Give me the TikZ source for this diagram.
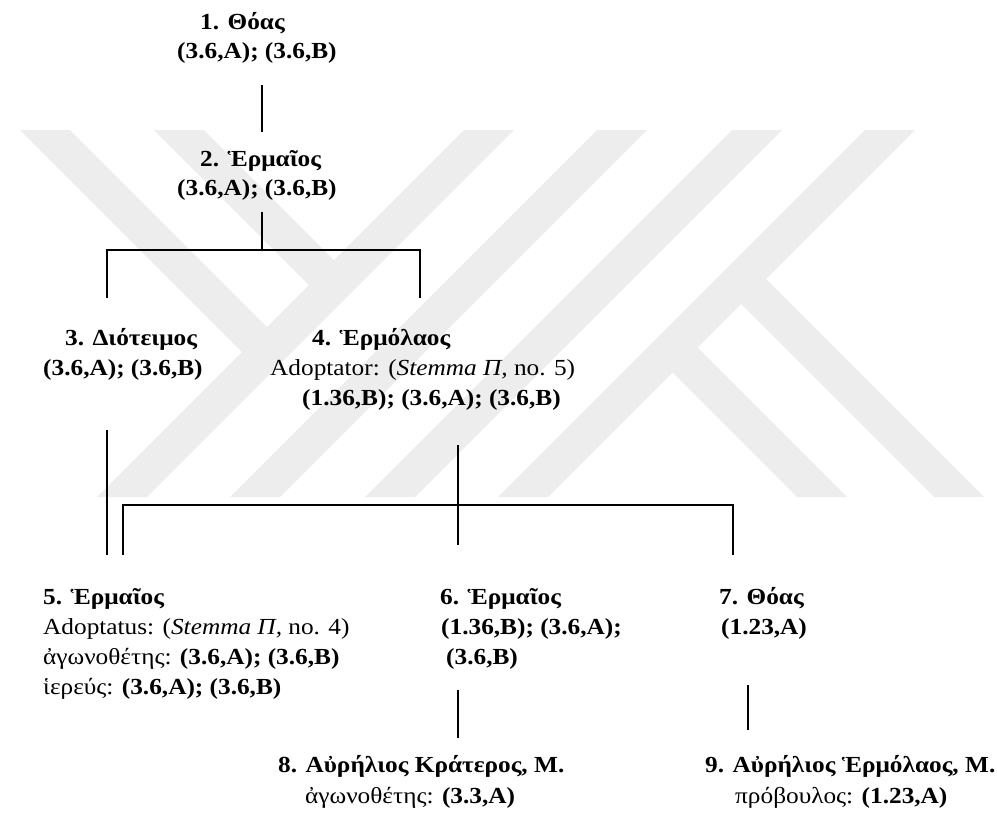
\documentclass[tikz,border=0pt]{standalone}
\usepackage{fontspec}
\setmainfont{Liberation Serif}[FakeStretch=1.1]
\definecolor{wmgray}{RGB}{237,237,237}
\begin{document}
\begin{tikzpicture}[x=1pt,y=-1pt,
  txt/.style={anchor=base west,inner sep=0pt,font=\fontsize{23}{29}\selectfont},
  conn/.style={line width=1.2pt,black},
  wm/.style={fill=wmgray,draw=none}]
\useasboundingbox (0,0) rectangle (997,814);
% watermark
\begin{scope}
\clip (0,130) rectangle (997,497);
\foreach \x in {97,230,365,498}{
  \path[wm] (\x,497) -- (\x+50,497) -- (\x+417,130) -- (\x+367,130) -- cycle;
}
\path[wm] (20,130) -- (70,130) -- (280,340) -- (255,365) -- cycle;
\path[wm] (154,130) -- (204,130) -- (347,273) -- (322,298) -- cycle;
\path[wm] (753.5,266.5) -- (984,497) -- (934,497) -- (728.5,291.5) -- cycle;
\path[wm] (685,335) -- (847,497) -- (797,497) -- (660,360) -- cycle;
\end{scope}
% texts
\node[txt] (n1a) at (200,29) {\textbf{1. Θόας}};
\node[txt] (n1b) at (177,58) {\textbf{(3.6,A); (3.6,B)}};
\node[txt] (n2a) at (200,166) {\textbf{2. Ἑρμαῖος}};
\node[txt] (n2b) at (177,195) {\textbf{(3.6,A); (3.6,B)}};
\node[txt] (n3a) at (65,345) {\textbf{3. Διότειμος}};
\node[txt] (n3b) at (43,375) {\textbf{(3.6,A); (3.6,B)}};
\node[txt] (n4a) at (312,345) {\textbf{4. Ἑρμόλαος}};
\node[txt] (n4b) at (270,375) {Adoptator: (\textit{Stemma Π,} no. 5)};
\node[txt] (n4c) at (302,405) {\textbf{(1.36,B); (3.6,A); (3.6,B)}};
\node[txt] (n5a) at (43,604) {\textbf{5. Ἑρμαῖος}};
\node[txt] (n5b) at (43,634) {Adoptatus: (\textit{Stemma Π,} no. 4)};
\node[txt] (n5c) at (43,664) {ἀγωνοθέτης: \textbf{(3.6,A); (3.6,B)}};
\node[txt] (n5d) at (43,694) {ἱερεύς: \textbf{(3.6,A); (3.6,B)}};
\node[txt] (n6a) at (440,604) {\textbf{6. Ἑρμαῖος}};
\node[txt] (n6b) at (441,634) {\textbf{(1.36,B); (3.6,A);}};
\node[txt] (n6c) at (446,664) {\textbf{(3.6,B)}};
\node[txt] (n7a) at (719,604) {\textbf{7. Θόας}};
\node[txt] (n7b) at (721,634) {\textbf{(1.23,A)}};
\node[txt] (n8a) at (278,772) {\textbf{8. Αὐρήλιος Κράτερος, Μ.}};
\node[txt] (n8b) at (305,803) {ἀγωνοθέτης: \textbf{(3.3,A)}};
\node[txt] (n9a) at (705,772) {\textbf{9. Αὐρήλιος Ἑρμόλαος, Μ.}};
\node[txt] (n9b) at (735,803) {πρόβουλος: \textbf{(1.23,A)}};
% connector coordinates
\coordinate (c1t) at (262,85);  \coordinate (c1b) at (262,132);
\coordinate (c2t) at (262,212); \coordinate (j2) at (262,250);
\coordinate (j2l) at (107,250); \coordinate (j2r) at (420,250);
\coordinate (d3) at (107,298);  \coordinate (d4) at (420,298);
\coordinate (c3t) at (107,430); \coordinate (c3b) at (107,555);
\coordinate (c4t) at (458,445); \coordinate (c4b) at (458,545);
\coordinate (j5l) at (123,505); \coordinate (j5r) at (733,505);
\coordinate (d5) at (123,555);  \coordinate (d7) at (733,555);
\coordinate (c6t) at (458,690); \coordinate (c6b) at (458,738);
\coordinate (c7t) at (748,685); \coordinate (c7b) at (748,730);
% connectors
\draw[conn] (c1t) -- (c1b);
\draw[conn] (c2t) -- (j2);
\draw[conn] (d3) -- (j2l) -- (j2r) -- (d4);
\draw[conn] (c3t) -- (c3b);
\draw[conn] (c4t) -- (c4b);
\draw[conn] (d5) -- (j5l) -- (j5r) -- (d7);
\draw[conn] (c6t) -- (c6b);
\draw[conn] (c7t) -- (c7b);
\end{tikzpicture}
\end{document}
